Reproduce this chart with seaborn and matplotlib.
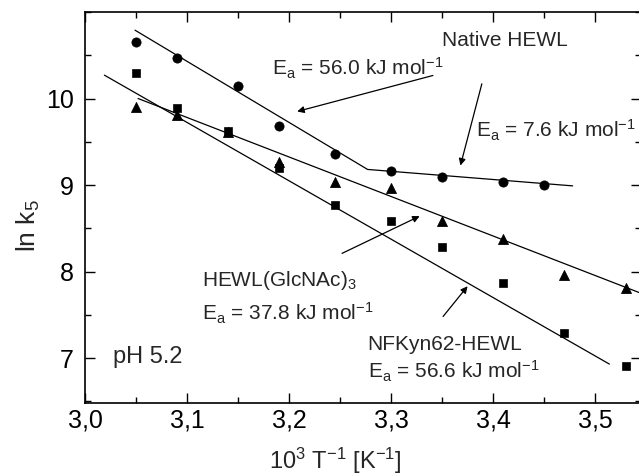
import matplotlib
matplotlib.use("Agg")
import matplotlib.pyplot as plt
import seaborn as sns
from matplotlib.ticker import MultipleLocator, FixedLocator, FuncFormatter

# measured points (10^3/T, ln k5)
native_x = [3.05, 3.09, 3.15, 3.19, 3.245, 3.30, 3.35, 3.41, 3.45]
native_y = [10.65, 10.47, 10.14, 9.68, 9.36, 9.16, 9.09, 9.03, 9.00]

glcnac_x = [3.05, 3.09, 3.14, 3.19, 3.245, 3.30, 3.35, 3.41, 3.47, 3.53]
glcnac_y = [9.90, 9.81, 9.61, 9.27, 9.04, 8.96, 8.58, 8.38, 7.96, 7.81]

nfkyn_x = [3.05, 3.09, 3.14, 3.19, 3.245, 3.30, 3.35, 3.41, 3.47, 3.53]
nfkyn_y = [10.30, 9.89, 9.62, 9.20, 8.77, 8.58, 8.28, 7.87, 7.29, 6.91]

# fitted Arrhenius lines
native_fit_x = [3.049, 3.277, 3.478]
native_fit_y = [10.79, 9.18, 8.99]
glcnac_fit_x = [3.052, 3.56]
glcnac_fit_y = [10.0, 7.68]
nfkyn_fit_x = [3.019, 3.514]
nfkyn_fit_y = [10.27, 6.93]

y_ticks = [7, 8, 9, 10]

sns.set_style("ticks")
plt.rcParams['font.family'] = ['Liberation Sans', 'DejaVu Sans']
plt.rcParams['mathtext.fontset'] = 'custom'
plt.rcParams['mathtext.rm'] = 'Liberation Sans'
plt.rcParams['mathtext.it'] = 'Liberation Sans'
plt.rcParams['mathtext.default'] = 'regular'

fig = plt.figure(figsize=(6.39, 4.76), dpi=100)
ax = fig.add_axes([85/639, 1 - 403/476, 556/639, 391/476])

for fx, fy in [(native_fit_x, native_fit_y), (glcnac_fit_x, glcnac_fit_y), (nfkyn_fit_x, nfkyn_fit_y)]:
    sns.lineplot(x=fx, y=fy, color="k", linewidth=0.9, sort=False, estimator=None, ax=ax)

sns.scatterplot(x=native_x, y=native_y, marker="o", s=44, color="k", edgecolor="k", ax=ax, zorder=3)
sns.scatterplot(x=nfkyn_x, y=nfkyn_y, marker="s", s=36, color="k", edgecolor="k", ax=ax, zorder=3)
sns.scatterplot(x=glcnac_x, y=glcnac_y, marker="^", s=52, color="k", edgecolor="k", ax=ax, zorder=3)

ax.set_xlim(3.0, 3.545)
ax.set_ylim(6.48, 11.0)
ax.xaxis.set_major_locator(MultipleLocator(0.1))
ax.xaxis.set_minor_locator(MultipleLocator(0.05))
ax.yaxis.set_major_locator(FixedLocator(y_ticks))
ax.yaxis.set_minor_locator(MultipleLocator(0.5))
ax.xaxis.set_major_formatter(FuncFormatter(lambda v, p: f"{v:.1f}".replace(".", ",")))
ax.tick_params(which="both", direction="in", top=True, right=True, width=1.0, colors="k")
ax.tick_params(which="major", length=7, labelsize=18, pad=4)
ax.tick_params(axis="y", which="major", pad=8)
ax.tick_params(which="minor", length=4)
for s in ax.spines.values():
    s.set_linewidth(1.2)
    s.set_color("k")

ax.set_xlabel("10$^3$ T$^{-1}$ [K$^{-1}$]", fontsize=17)
ax.set_ylabel("ln k$_5$", fontsize=19)
ax.xaxis.set_label_coords(0.451, -0.11)
ax.yaxis.set_label_coords(-0.078, 0.455)

fs = 15
ax.text(3.35, 10.61, "Native HEWL", fontsize=fs, va="baseline")
ax.text(3.183, 10.266, "E$_a$ = 56.0 kJ mol$^{-1}$", fontsize=fs, va="baseline")
ax.text(3.383, 9.55, "E$_a$ = 7.6 kJ mol$^{-1}$", fontsize=fs, va="baseline")
ax.text(3.115, 7.83, "HEWL(GlcNAc)$_3$", fontsize=fs, va="baseline")
ax.text(3.115, 7.43, "E$_a$ = 37.8 kJ mol$^{-1}$", fontsize=fs, va="baseline")
ax.text(3.277, 7.09, "NFKyn62-HEWL", fontsize=fs, va="baseline")
ax.text(3.277, 6.76, "E$_a$ = 56.6 kJ mol$^{-1}$", fontsize=fs, va="baseline")
ax.text(3.027, 6.94, "pH 5.2", fontsize=17, va="baseline")

arrow = dict(arrowstyle="-|>", color="k", lw=0.9, mutation_scale=10, shrinkA=0, shrinkB=0)
ax.annotate("", xy=(3.208, 9.85), xytext=(3.341, 10.266), arrowprops=arrow)
ax.annotate("", xy=(3.368, 9.225), xytext=(3.389, 10.17), arrowprops=arrow)
ax.annotate("", xy=(3.328, 8.64), xytext=(3.252, 8.21), arrowprops=arrow)
ax.annotate("", xy=(3.375, 7.83), xytext=(3.351, 7.48), arrowprops=arrow)

fig.savefig("out.png", dpi=100)
